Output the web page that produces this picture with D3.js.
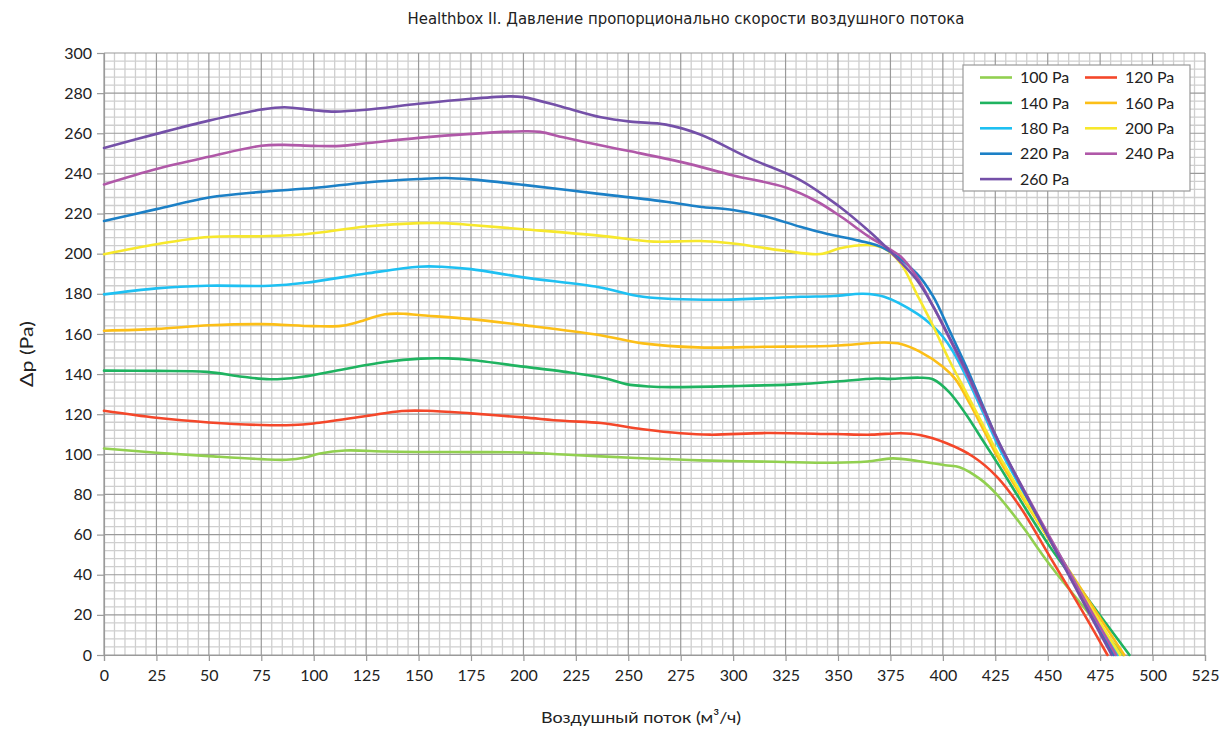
<!DOCTYPE html>
<html>
<head>
<meta charset="utf-8">
<script src="https://cdn.jsdelivr.net/npm/d3@7"></script>
<style>
  html, body { margin: 0; padding: 0; background: #ffffff; }
  svg { display: block; }
</style>
</head>
<body>
<div id="chart"></div>
<script>
// ---------------- DATA ----------------
const chartTitle = "Healthbox II. Давление пропорционально скорости воздушного потока";
const xAxisTitle = "Воздушный поток (м³/ч)";
const yAxisTitle = "Δp (Pa)";
const xTicks = d3.range(0, 526, 25);
const yTicks = d3.range(0, 301, 20);
const seriesNames = ["100 Pa", "120 Pa", "140 Pa", "160 Pa", "180 Pa", "200 Pa", "220 Pa", "240 Pa", "260 Pa"];

const s100 = [[0,102.9],[25,100.8],[50,99.1],[75,97.6],[87,97.3],[96,98.4],[103,100.4],[115,101.9],[134,101.4],[150,101.2],[175,101.1],[200,100.9],[219,99.9],[237,99.0],[260,97.9],[284,97.0],[320,96.3],[348,95.8],[364,96.4],[376,98.0],[388,96.7],[401,94.6],[408,93.6],[418,87.5],[426,79.7],[438,64],[451,45],[486,0]];
const s120 = [[0,121.7],[25,118.2],[50,115.9],[75,114.6],[90,114.6],[100,115.4],[125,119.1],[142,121.6],[154,121.7],[175,120.4],[200,118.4],[219,116.7],[237,115.6],[257,112.5],[275,110.5],[289,109.8],[316,110.6],[348,110.1],[366,109.8],[380,110.5],[389,109.6],[401.8,105.5],[414.5,98.8],[425.7,88.9],[436.8,73.9],[451,49],[467,21],[478.5,0]];
const s140 = [[0,141.7],[25,141.6],[49,141.1],[66,138.7],[79,137.4],[93,138.4],[108,141.2],[134,146],[151,147.7],[164,147.8],[175,147],[200,143.7],[219,141.2],[239,137.9],[249,135],[260,133.8],[270,133.5],[300,134],[332,135],[348,136.2],[368,137.8],[375,137.6],[389,138.2],[395.5,137.3],[403,131],[411,120],[419,107],[427,94],[440,72],[451,54],[467,31],[489,0]];
const s160 = [[0,161.6],[25,162.5],[50,164.3],[75,164.9],[100,163.9],[113,164],[120,165.6],[134,169.8],[144,170],[150,169.4],[175,167.4],[200,164.4],[236,159.5],[257,155.3],[283,153.3],[316,153.6],[348,154.1],[372,155.7],[380,155],[389,151.2],[400,143.7],[406,137.5],[413,125],[420,111],[427,97],[486.5,0]];
const s180 = [[0,179.7],[25,182.7],[49,184],[79,184],[96,185.5],[125,190.1],[150,193.5],[161,193.5],[175,192.3],[200,188.2],[236,183.3],[257,178.5],[292,177],[332,178.5],[348,178.9],[362,180],[372,178.5],[387.5,170.2],[395.5,163.6],[400,158.6],[405,151],[412,137],[420,119],[428,101],[483.5,0]];
const s200 = [[0,199.7],[25,204.7],[50,208.3],[75,208.7],[96,209.7],[125,213.5],[150,215.2],[163,215.2],[175,214.3],[200,212.2],[236,209],[262,206],[284,206.3],[300,205.1],[324,201.5],[341.5,199.8],[351,202.7],[364,204.3],[372,202.6],[380,195],[387.5,180],[395.5,163.6],[403,147],[411,131],[419,115],[427,99],[484.5,0]];
const s220 = [[0,216.3],[25,222.2],[50,228],[75,230.8],[100,232.7],[125,235.5],[150,237.2],[163,237.7],[175,237],[200,234.3],[236,229.8],[268,225.9],[284,223.4],[300,221.8],[316,218.4],[332,213.4],[345,209.8],[360,206.5],[372,202.6],[387.5,190.2],[395.5,178.5],[403,162],[411,144],[419,124.5],[427,105],[481.5,0]];
const s240 = [[0,234.5],[25,242.2],[50,248.3],[75,253.8],[86,254.2],[100,253.7],[113,253.7],[125,255],[150,257.7],[175,259.7],[200,261],[208,260.7],[219,258],[239,253.5],[251,251],[276,245.5],[300,239],[325,233],[340,226],[352,218],[364,209],[375,202],[380,198.5],[387.5,188.6],[395.5,173.5],[403,158],[411,141],[419,123],[427,105],[482.5,0]];
const s260 = [[0,252.7],[25,259.7],[50,266.3],[75,271.8],[86,273],[100,271.5],[110,270.8],[125,271.7],[150,274.7],[175,277.2],[193,278.4],[200,278],[219,273],[237,268],[251,265.8],[268,264.3],[284,259.5],[308,247.5],[332,236.7],[350,224],[365,211],[375,201],[387.5,187],[395.5,173.5],[403,158.6],[411,142],[419,123.7],[427,105.5],[480.5,0]];

const seriesData = [s100, s120, s140, s160, s180, s200, s220, s240, s260];
const seriesColors = ["#92d050", "#f4472a", "#1fb360", "#fcbf17", "#1ec0f2", "#f7e82c", "#1c80c6", "#b058a8", "#7450a8"];

// ---------------- LAYOUT ----------------
const W = 1229, H = 729;
const plot = { left: 104, right: 1205, top: 53, bottom: 655 };
const fontMain = "Lato, 'Noto Sans', 'DejaVu Sans', sans-serif";

const svg = d3.select("#chart").append("svg").attr("width", W).attr("height", H);
svg.append("rect").attr("width", W).attr("height", H).attr("fill", "#ffffff");

const x = d3.scaleLinear().domain([0, 525]).range([plot.left, plot.right]);
const y = d3.scaleLinear().domain([0, 300]).range([plot.bottom, plot.top]);

// grid
const grid = svg.append("g");
const xMinor = d3.range(0, 526, 5).filter(v => v % 25 !== 0);
const yMinor = d3.range(0, 301, 4).filter(v => v % 20 !== 0);
grid.selectAll(".vminor").data(xMinor).join("line")
  .attr("x1", d => x(d)).attr("x2", d => x(d)).attr("y1", plot.top).attr("y2", plot.bottom)
  .attr("stroke", "#cfcfcf").attr("stroke-width", 1.3);
grid.selectAll(".hminor").data(yMinor).join("line")
  .attr("y1", d => y(d)).attr("y2", d => y(d)).attr("x1", plot.left).attr("x2", plot.right)
  .attr("stroke", "#cfcfcf").attr("stroke-width", 1.3);
grid.selectAll(".vmajor").data(xTicks).join("line")
  .attr("x1", d => x(d)).attr("x2", d => x(d)).attr("y1", plot.top).attr("y2", plot.bottom)
  .attr("stroke", "#9a9a9a").attr("stroke-width", 1.2);
grid.selectAll(".hmajor").data(yTicks).join("line")
  .attr("y1", d => y(d)).attr("y2", d => y(d)).attr("x1", plot.left).attr("x2", plot.right)
  .attr("stroke", "#9a9a9a").attr("stroke-width", 1.2);

// axes
const xAxis = svg.append("g").attr("transform", `translate(0,${plot.bottom})`)
  .call(d3.axisBottom(x).tickValues(xTicks).tickSize(6).tickPadding(9).tickFormat(d3.format("d")));
const yAxis = svg.append("g").attr("transform", `translate(${plot.left},0)`)
  .call(d3.axisLeft(y).tickValues(yTicks).tickSize(7).tickPadding(5).tickFormat(d3.format("d")));
[xAxis, yAxis].forEach(a => {
  a.select(".domain").attr("stroke", "#9a9a9a").attr("stroke-width", 1.2);
  a.selectAll(".tick line").attr("stroke", "#9a9a9a").attr("stroke-width", 1.2);
  a.selectAll(".tick text").attr("fill", "#222").style("font-family", fontMain).style("font-size", "16px");
});

// lines
const line = d3.line().x(d => x(d[0])).y(d => y(d[1])).curve(d3.curveCatmullRom.alpha(0.5));
svg.append("g").selectAll("path").data(seriesData).join("path")
  .attr("d", d => line(d))
  .attr("fill", "none")
  .attr("stroke", (d, i) => seriesColors[i])
  .attr("stroke-width", 2.6)
  .attr("stroke-linejoin", "round")
  .attr("stroke-linecap", "round");

// title
svg.append("text").attr("x", 686).attr("y", 24)
  .attr("text-anchor", "middle")
  .attr("textLength", 557).attr("lengthAdjust", "spacingAndGlyphs")
  .style("font-family", "'Liberation Sans Narrow', 'DejaVu Sans Condensed', 'Roboto', sans-serif")
  .style("font-size", "15px").attr("fill", "#222")
  .text(chartTitle);

// axis titles
svg.append("text").attr("x", 641).attr("y", 723)
  .attr("text-anchor", "middle")
  .attr("textLength", 200).attr("lengthAdjust", "spacingAndGlyphs")
  .style("font-family", fontMain).style("font-size", "16px").attr("fill", "#222")
  .text(xAxisTitle);
svg.append("text").attr("transform", "translate(33,354) rotate(-90)")
  .attr("text-anchor", "middle")
  .attr("textLength", 66).attr("lengthAdjust", "spacingAndGlyphs")
  .style("font-family", fontMain).style("font-size", "17px").attr("fill", "#222")
  .text(yAxisTitle);

// legend
const lg = svg.append("g");
lg.append("rect").attr("x", 963).attr("y", 65).attr("width", 227).attr("height", 126)
  .attr("fill", "#ffffff").attr("stroke", "#9a9a9a").attr("stroke-width", 1.2);
const colX = [980, 1085];
const rowY0 = 77.5, rowStep = 25.4;
const items = lg.selectAll(".item").data(seriesNames).join("g")
  .attr("transform", (d, i) => `translate(${colX[i % 2]},${rowY0 + Math.floor(i / 2) * rowStep})`);
items.append("line").attr("x1", 0).attr("x2", 32).attr("y1", 0).attr("y2", 0)
  .attr("stroke", (d, i) => seriesColors[i]).attr("stroke-width", 2.6);
items.append("text").attr("x", 40).attr("y", 0).attr("dy", "0.35em")
  .style("font-family", fontMain).style("font-size", "16px").attr("fill", "#222")
  .text(d => d);
</script>
</body>
</html>
